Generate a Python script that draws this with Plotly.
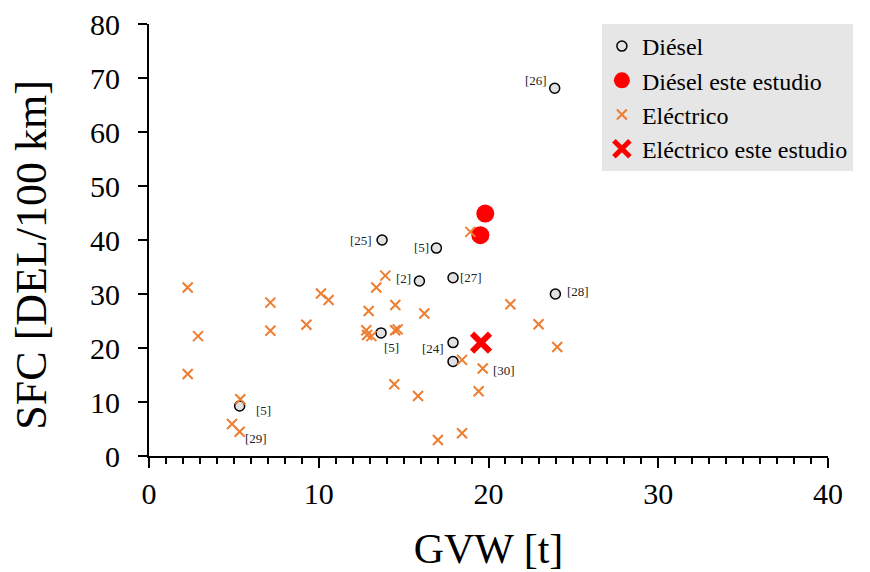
import plotly.graph_objects as go

# ---------------- data ----------------
diesel_gvw = [23.9, 13.73, 16.93, 15.93, 17.91, 23.94, 13.67, 17.91, 17.91, 5.34]
diesel_sfc = [68.1, 40.0, 38.5, 32.4, 33.0, 30.0, 22.8, 21.0, 17.5, 9.26]
diesel_ref = ["[26]", "[25]", "[5]", "[2]", "[27]", "[28]", "[5]", "[24]", "", "[5]"]

diesel_study_gvw = [19.81, 19.52]
diesel_study_sfc = [44.9, 40.9]

elec_gvw = [2.28, 2.89, 2.28, 5.38, 4.89, 5.34, 7.15, 7.15, 9.27, 10.13, 10.58,
            12.8, 12.85, 13.1, 12.94, 13.39, 13.92, 14.51, 14.5, 14.65, 14.45,
            16.22, 15.85, 17.02, 18.93, 21.29, 22.95, 24.05, 18.44, 19.66, 19.42, 18.44]
elec_sfc = [31.2, 22.2, 15.2, 10.5, 5.93, 4.5, 28.4, 23.2, 24.3, 30.1, 28.9,
            23.3, 22.4, 22.2, 26.85, 31.2, 33.4, 27.96, 23.3, 23.45, 13.3,
            26.4, 11.1, 2.96, 41.5, 28.1, 24.4, 20.2, 17.8, 16.2, 12.0, 4.2]
elec_ref = [""] * 5 + ["[29]"] + [""] * 23 + ["[30]", "", ""]

elec_study_gvw = [19.56]
elec_study_sfc = [21.0]

x_ticks = [0, 10, 20, 30, 40]
y_ticks = [0, 10, 20, 30, 40, 50, 60, 70, 80]

series_names = ["Diésel", "Diésel este estudio", "Eléctrico", "Eléctrico este estudio"]
x_title = "GVW [t]"
y_title = "SFC [DEL/100 km]"

# label offsets (pixels) per reference label, layout only
diesel_off = [(-19, -8), (-21, 0), (-15, -1), (-16, -3), (18, 0), (23, -3),
              (10, 15), (-20, 6), (0, 0), (24, 4)]
elec_off = {5: (16, 7), 29: (21, 2)}

FONT = "Liberation Serif, Times New Roman, serif"

fig = go.Figure()
fig.add_trace(go.Scatter(
    x=diesel_gvw, y=diesel_sfc, mode="markers", name=series_names[0],
    marker=dict(symbol="circle", size=10, color="#e2e2e2",
                line=dict(color="black", width=1.5)),
    legendgroup="a"))
fig.add_trace(go.Scatter(
    x=diesel_study_gvw, y=diesel_study_sfc, mode="markers", name=series_names[1],
    marker=dict(symbol="circle", size=18, color="#ff0000", line=dict(width=0)),
    legendgroup="b"))
fig.add_trace(go.Scatter(
    x=elec_gvw, y=elec_sfc, mode="markers", name=series_names[2],
    marker=dict(symbol="x-thin-open", size=10, color="#ED7D31",
                line=dict(color="#ED7D31", width=2)),
    legendgroup="c"))
fig.add_trace(go.Scatter(
    x=elec_study_gvw, y=elec_study_sfc, mode="markers", name=series_names[3],
    marker=dict(symbol="x-thin-open", size=18, color="#ff0000",
                line=dict(color="#ff0000", width=6)),
    legendgroup="d"))

annotations = []
for xv, yv, t, (dx, dy) in zip(diesel_gvw, diesel_sfc, diesel_ref, diesel_off):
    if t:
        annotations.append(dict(x=xv, y=yv, text=t, showarrow=False,
                                xshift=dx, yshift=-dy,
                                font=dict(family=FONT, size=13, color="#222")))
for i, (xv, yv, t) in enumerate(zip(elec_gvw, elec_sfc, elec_ref)):
    if t:
        dx, dy = elec_off[i]
        annotations.append(dict(x=xv, y=yv, text=t, showarrow=False,
                                xshift=dx, yshift=-dy,
                                font=dict(family=FONT, size=13, color="#222")))
# y axis title
annotations.append(dict(x=-0.173, y=0.465, xref="paper", yref="paper", text=y_title,
                        textangle=-90, showarrow=False, xanchor="center", yanchor="middle",
                        font=dict(family=FONT, size=44, color="black")))

fig.update_layout(
    width=870, height=572,
    margin=dict(l=141, r=50, t=16, b=124, autoexpand=False),
    paper_bgcolor="white", plot_bgcolor="white",
    font=dict(family=FONT, color="black"),
    showlegend=True,
    legend=dict(x=0.667, y=1.0, xanchor="left", yanchor="top",
                bgcolor="#e7e6e6", font=dict(family=FONT, size=24, color="black"),
                traceorder="grouped", tracegroupgap=0, itemwidth=30,
                borderwidth=0),
    annotations=annotations,
    xaxis=dict(range=[0, 40], tickvals=x_ticks, ticktext=[str(v) for v in x_ticks],
               automargin=False, ticklabeloverflow="allow",
               showgrid=False, zeroline=False, showline=True, linecolor="black", linewidth=2,
               ticks="outside", ticklen=10, tickwidth=2, tickcolor="black",
               minor=dict(dtick=1, ticks="outside", ticklen=6, tickwidth=1.5, tickcolor="black"),
               tickfont=dict(family=FONT, size=30, color="black"),
               title=dict(text=x_title, font=dict(family=FONT, size=42, color="black"), standoff=25)),
    yaxis=dict(range=[0, 80], tickvals=y_ticks, ticktext=[str(v) for v in y_ticks],
               automargin=False, ticklabeloverflow="allow",
               showgrid=False, zeroline=False, showline=True, linecolor="black", linewidth=2,
               ticks="outside", ticklen=9, tickwidth=2, tickcolor="black",
               ticklabelstandoff=12,
               tickfont=dict(family=FONT, size=30, color="black")),
    xaxis2=dict(range=[0, 40], overlaying="x", anchor="y", side="bottom", automargin=False,
                tickvals=x_ticks, showticklabels=False, showgrid=False, zeroline=False,
                showline=False, ticks="inside", ticklen=3, tickwidth=2, tickcolor="black"),
    yaxis2=dict(range=[0, 80], overlaying="y", anchor="x", side="left", dtick=5, automargin=False,
                showticklabels=False, showgrid=False, zeroline=False,
                showline=False, ticks="inside", ticklen=8, tickwidth=2, tickcolor="black"),
)

fig.write_html("out.html")
